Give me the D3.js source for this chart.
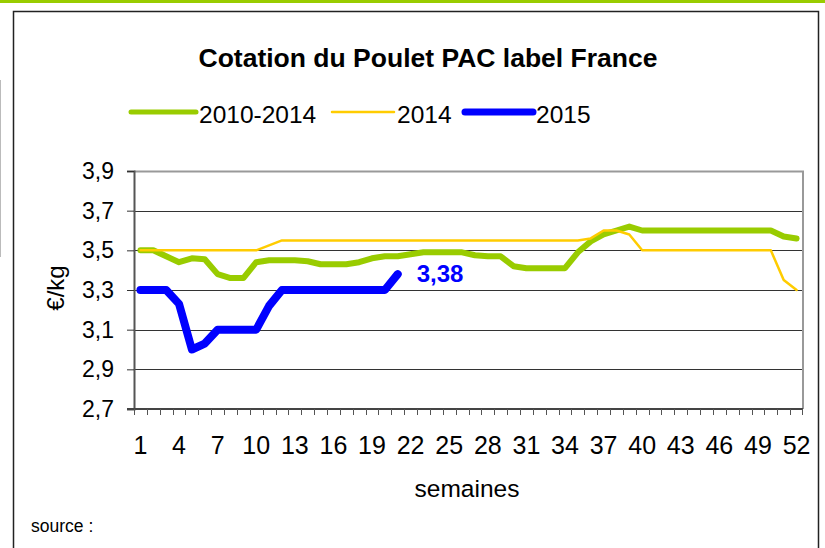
<!DOCTYPE html>
<html>
<head>
<meta charset="utf-8">
<script src="https://cdn.jsdelivr.net/npm/d3@7"></script>
<style>
  body { margin: 0; background: #fff; }
  svg { font-family: "Liberation Sans", Arial, sans-serif; }
</style>
</head>
<body>
<svg width="825" height="548"></svg>
<script>
// semaines 1..52
var weeks = d3.range(1, 53);
var yTicks = [2.7, 2.9, 3.1, 3.3, 3.5, 3.7, 3.9];

var avg1014 = [3.50, 3.50, 3.47, 3.44, 3.46, 3.455, 3.38, 3.36, 3.36, 3.44,
               3.45, 3.45, 3.45, 3.445, 3.43, 3.43, 3.43, 3.44, 3.46, 3.47,
               3.47, 3.48, 3.49, 3.49, 3.49, 3.49, 3.475, 3.47, 3.47, 3.42,
               3.41, 3.41, 3.41, 3.41, 3.49, 3.545, 3.58, 3.60, 3.62, 3.60,
               3.60, 3.60, 3.60, 3.60, 3.60, 3.60, 3.60, 3.60, 3.60, 3.60,
               3.57, 3.56];
var y2014 = [3.50, 3.50, 3.50, 3.50, 3.50, 3.50, 3.50, 3.50, 3.50, 3.50,
             3.525, 3.55, 3.55, 3.55, 3.55, 3.55, 3.55, 3.55, 3.55, 3.55,
             3.55, 3.55, 3.55, 3.55, 3.55, 3.55, 3.55, 3.55, 3.55, 3.55,
             3.55, 3.55, 3.55, 3.55, 3.55, 3.56, 3.60, 3.60, 3.58, 3.50,
             3.50, 3.50, 3.50, 3.50, 3.50, 3.50, 3.50, 3.50, 3.50, 3.50,
             3.35, 3.30];
var y2015 = [3.30, 3.30, 3.30, 3.23, 3.00, 3.03, 3.10, 3.10, 3.10, 3.10,
             3.22, 3.30, 3.30, 3.30, 3.30, 3.30, 3.30, 3.30, 3.30, 3.30,
             3.38];

var series = [
  {name: "2010-2014", values: avg1014, color: "#99cc00", width: 6, legW: 5},
  {name: "2014", values: y2014, color: "#ffcc00", width: 2.5, legW: 2.5},
  {name: "2015", values: y2015, color: "#0000ff", width: 8, legW: 7}
];

var fmt = function(v) { return d3.format(".1f")(v).replace(".", ","); };
var fmt2 = function(v) { return d3.format(".2f")(v).replace(".", ","); };

var svg = d3.select("svg");
var pLeft = 134, pRight = 803, pTop = 171, pBottom = 409;

// bandeau + cadre
svg.append("rect").attr("x", 0).attr("y", 0).attr("width", 825).attr("height", 3)
  .attr("fill", "#99cc00");
svg.append("line").attr("x1", 0.5).attr("x2", 0.5).attr("y1", 80).attr("y2", 257)
  .attr("stroke", "#bbb");
svg.append("path").attr("d", "M13.5,560V11.5H818.5V560")
  .attr("fill", "none").attr("stroke", "#222").attr("stroke-width", 1.5);

var x = d3.scaleBand().domain(weeks).range([pLeft, pRight]).padding(0);
var cx = function(i) { return x(weeks[i]) + x.bandwidth() / 2; };
var y = d3.scaleLinear().domain([2.7, 3.9]).range([pBottom, pTop]);

// grille
svg.append("g").selectAll("line")
  .data(yTicks.slice(1, -1))
  .enter().append("line")
    .attr("x1", pLeft).attr("x2", pRight)
    .attr("y1", function(d) { return Math.round(y(d)) + 0.5; })
    .attr("y2", function(d) { return Math.round(y(d)) + 0.5; })
    .attr("stroke", "#333");

// bord haut / droit
svg.append("path")
  .attr("d", "M" + pLeft + "," + (pTop + 0.5) + "H" + pRight + "V" + pBottom)
  .attr("fill", "none").attr("stroke", "#999").attr("stroke-width", 2);

// axe y
var yAxis = svg.append("g")
  .attr("transform", "translate(" + pLeft + ",0)")
  .call(d3.axisLeft(y).tickValues(yTicks).tickFormat(fmt).tickSize(7).tickPadding(13));
yAxis.select(".domain").attr("stroke", "#555").attr("stroke-width", 2);
yAxis.selectAll(".tick line").attr("stroke", "#333");
yAxis.selectAll("text").attr("font-size", 23).attr("fill", "#000")
  .attr("font-family", "Liberation Sans, Arial, sans-serif");

// axe x
svg.append("line").attr("x1", pLeft - 7).attr("x2", pRight)
  .attr("y1", pBottom).attr("y2", pBottom)
  .attr("stroke", "#444").attr("stroke-width", 2);
svg.append("g").selectAll("line")
  .data(weeks)
  .enter().append("line")
    .attr("x1", function(d) { return Math.round(x(d)) + 0.5; })
    .attr("x2", function(d) { return Math.round(x(d)) + 0.5; })
    .attr("y1", pBottom).attr("y2", pBottom + 6)
    .attr("stroke", "#555");
svg.append("line").attr("x1", pRight - 0.5).attr("x2", pRight - 0.5)
  .attr("y1", pBottom).attr("y2", pBottom + 6).attr("stroke", "#555");

svg.append("g").selectAll("text")
  .data(weeks.filter(function(d, i) { return i % 3 === 0; }))
  .enter().append("text")
    .attr("x", function(d) { return x(d) + x.bandwidth() / 2; })
    .attr("y", 454)
    .attr("text-anchor", "middle")
    .attr("font-size", 25)
    .text(function(d) { return d; });

// courbes
var line = d3.line()
  .x(function(d, i) { return cx(i); })
  .y(function(d) { return y(d); });

svg.append("g").selectAll("path")
  .data(series)
  .enter().append("path")
    .attr("d", function(s) { return line(s.values); })
    .attr("fill", "none")
    .attr("stroke", function(s) { return s.color; })
    .attr("stroke-width", function(s) { return s.width; })
    .attr("stroke-linejoin", "round")
    .attr("stroke-linecap", "round");

// étiquette dernière valeur
var last = y2015.length - 1;
svg.append("text")
  .attr("x", cx(last) + 19)
  .attr("y", y(y2015[last]) + 8)
  .attr("font-size", 24).attr("font-weight", "bold").attr("fill", "#0000ff")
  .text(fmt2(y2015[last]));

// titres
svg.append("text").attr("x", 428).attr("y", 67).attr("text-anchor", "middle")
  .attr("font-size", 26.5).attr("font-weight", "bold")
  .text("Cotation du Poulet PAC label France");
svg.append("text").attr("x", 467).attr("y", 497).attr("text-anchor", "middle")
  .attr("font-size", 24.5).text("semaines");
svg.append("text").attr("transform", "translate(64,288) rotate(-90)")
  .attr("text-anchor", "middle").attr("font-size", 24).text("€/kg");
svg.append("text").attr("x", 31).attr("y", 532).attr("font-size", 17.5).text("source :");

// légende
var legX = [131, 332, 465], legLen = [65, 62, 68];
var leg = svg.append("g").selectAll("g")
  .data(series)
  .enter().append("g");
leg.append("line")
  .attr("x1", function(s, i) { return legX[i]; })
  .attr("x2", function(s, i) { return legX[i] + legLen[i]; })
  .attr("y1", 112).attr("y2", 112)
  .attr("stroke", function(s) { return s.color; })
  .attr("stroke-width", function(s) { return s.legW; })
  .attr("stroke-linecap", "round");
leg.append("text")
  .attr("x", function(s, i) { return legX[i] + legLen[i] + 3; })
  .attr("y", 123)
  .attr("font-size", 24.5)
  .text(function(s) { return s.name; });
</script>
</body>
</html>
